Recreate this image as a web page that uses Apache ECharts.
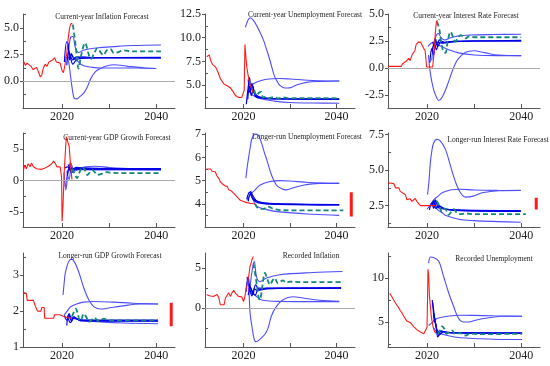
<!DOCTYPE html>
<html><head><meta charset="utf-8">
<script src="https://cdn.jsdelivr.net/npm/echarts@6/dist/echarts.min.js"></script>
<style>html,body{margin:0;padding:0;background:#fff}#c{width:550px;height:366px}</style>
</head><body><div id="c"></div>
<script>
// ---------- Axis tick labels ----------
const xLabels = [2020, 2040];
const xTicks = [2020, 2030, 2040];
const p1Labels = [0, 2.5, 5];
const p2Labels = [5, 7.5, 10, 12.5];
const p3Labels = [-2.5, 0, 2.5, 5];
const p4Labels = [-5, 0, 5];
const p5Labels = [4, 5, 6, 7];
const p6Labels = [2.5, 5, 7.5];
const p7Labels = [1, 2, 3];
const p8Labels = [0, 5];
const p9Labels = [5, 10];

// ---------- Panel 1: Current-year Inflation Forecast ----------
const p1Hist = [[2011.8,1.9],[2012.2,1.5],[2012.6,1.7],[2013.0,1.8],[2013.4,1.4],[2013.8,1.1],[2014.2,1.0],[2014.6,1.3],[2015.0,1.2],[2015.4,0.4],[2015.7,0.6],[2016.0,1.2],[2016.4,1.6],[2016.8,1.4],[2017.2,1.8],[2017.6,1.7],[2018.0,2.0],[2018.4,2.2],[2018.8,1.8],[2019.2,1.9],[2019.6,1.7],[2020.0,1.0],[2020.3,0.8],[2020.6,1.5],[2021.0,2.6],[2021.3,4.0],[2021.6,5.0],[2021.9,5.4],[2022.2,5.4]];
const p1B1 = [[2020.7,2.3],[2021.3,2.0],[2021.8,0.5],[2022.2,-0.8],[2022.6,-1.6],[2023.1,-1.65],[2023.6,-1.5],[2024.6,-1.1],[2025.4,-0.5],[2026.1,0.25],[2027.1,0.9],[2028.2,1.2],[2029.6,1.45],[2031.1,1.55],[2032.5,1.5],[2033.9,1.4],[2035.4,1.35],[2037.5,1.25],[2040.0,1.2]];
const p1B2 = [[2021.0,2.0],[2022.0,2.4],[2023.0,2.0],[2024.0,1.6],[2025.0,1.4],[2026.5,1.3],[2028.2,1.25],[2032,1.25],[2036,1.25],[2040,1.2]];
const p1B3 = [[2021.3,2.5],[2021.8,4.1],[2022.3,4.2],[2022.8,3.2],[2023.5,2.7],[2024.5,2.9],[2026,3.05],[2028,3.15],[2031,3.25],[2035,3.35],[2041,3.4]];
const p1B4 = [[2020.5,1.8],[2021,3.7],[2021.3,3.5],[2021.6,2.0],[2022,2.6],[2022.5,2.1],[2023,2.3],[2024,2.2],[2026,2.2],[2041,2.2]];
const p1B5 = [[2021.0,1.5],[2021.4,2.8],[2021.8,2.2],[2022.3,1.6],[2023,2.0],[2024,2.15],[2026,2.2],[2041,2.25]];
const p1B6 = [[2021.2,3.2],[2021.7,2.5],[2022.3,2.0],[2023,2.2],[2024,2.3],[2026,2.25],[2041,2.2]];
const p1Green = [[2022.3,5.3],[2022.7,4.0],[2023.1,2.5],[2023.5,1.2],[2024.0,2.3],[2024.9,3.6],[2025.6,2.6],[2026.1,2.1],[2026.8,2.6],[2027.5,3.1],[2028.2,2.7],[2028.8,2.45],[2029.5,2.9],[2030.3,3.0],[2031,2.65],[2031.8,2.7],[2033,2.9],[2035,2.8],[2041,2.8]];

// ---------- Panel 2: Current-year Unemployment Forecast ----------
const p2Hist = [[2012.1,8.0],[2012.6,8.2],[2013.0,7.5],[2013.3,7.2],[2014.0,6.9],[2014.4,6.5],[2014.7,6.1],[2015.0,5.7],[2015.4,5.4],[2015.8,5.1],[2016.1,5.0],[2016.5,4.95],[2016.8,4.75],[2017.2,4.7],[2017.5,4.5],[2017.8,4.3],[2018.2,3.95],[2018.6,3.8],[2018.9,3.7],[2019.3,3.65],[2019.6,3.7],[2020.0,3.6],[2020.15,4.5],[2020.3,9.3],[2020.5,8.0],[2020.7,6.9],[2021.0,6.0],[2021.3,5.2],[2021.6,4.8],[2022.1,4.2]];
const p2B1 = [[2020.4,11.1],[2020.9,11.8],[2021.4,12.1],[2022.0,11.9],[2022.8,11.3],[2023.5,10.6],[2024.3,9.75],[2025.0,8.7],[2025.7,7.6],[2026.2,6.7],[2026.7,5.9],[2027.3,5.35],[2027.8,5.0],[2028.9,4.7],[2029.9,4.72],[2031.3,5.0],[2033.5,5.3],[2036.3,5.4],[2040.6,5.45]];
const p2B2 = [[2021.0,4.6],[2021.6,4.9],[2022.3,5.2],[2023.2,5.4],[2024.2,5.55],[2025.0,5.63],[2026.5,5.68],[2027.8,5.7],[2030,5.65],[2033,5.55],[2036,5.47],[2040.6,5.45]];
const p2B3 = [[2021.3,4.4],[2021.8,4.0],[2022.5,3.8],[2023.5,3.6],[2025,3.45],[2027,3.3],[2030,3.18],[2035,3.12],[2040.6,3.1]];
const p2B4 = [[2020.6,3.0],[2021.0,4.8],[2021.3,5.8],[2021.6,4.5],[2022.0,4.9],[2022.4,4.0],[2023,3.8],[2024,3.7],[2026,3.6],[2030,3.55],[2040.6,3.55]];
const p2B5 = [[2021.0,5.6],[2021.4,4.2],[2021.8,5.2],[2022.2,4.3],[2022.7,4.0],[2023.5,3.75],[2025,3.6],[2030,3.55],[2040.6,3.5]];
const p2B6 = [[2020.9,3.5],[2021.3,4.9],[2021.7,3.9],[2022.1,4.6],[2022.6,3.8],[2023.5,3.65],[2026,3.55],[2040.6,3.55]];
const p2Green = [[2022.3,4.5],[2022.8,3.9],[2023.3,4.2],[2023.8,4.3],[2024.2,3.7],[2024.8,3.8],[2025.4,3.65],[2026.5,3.75],[2027.5,3.6],[2028.5,3.72],[2030,3.62],[2032,3.65],[2040.6,3.62]];

// ---------- Panel 3: Current-year Interest Rate Forecast ----------
const p3Hist = [[2011.7,0.15],[2013,0.15],[2014.5,0.15],[2014.8,0.4],[2015.2,0.3],[2015.5,0.6],[2015.8,0.5],[2016.1,0.9],[2016.4,0.7],[2016.8,1.2],[2017.1,1.1],[2017.4,1.6],[2017.7,2.2],[2018.1,2.4],[2018.6,2.4],[2019.0,2.3],[2019.3,1.8],[2019.6,1.6],[2019.9,0.1],[2020.5,0.1],[2021.2,0.1],[2021.5,1.5],[2021.8,3.5],[2022.0,4.3],[2022.2,4.4]];
const p3B1 = [[2020.3,1.2],[2020.7,-0.5],[2021.4,-2.0],[2022.1,-2.8],[2022.5,-3.0],[2023.2,-2.7],[2024.3,-1.6],[2025.3,-0.35],[2026.0,0.4],[2026.7,0.9],[2028.2,1.45],[2029.9,1.6],[2032.4,1.4],[2035.2,1.2],[2040,1.15]];
const p3B2 = [[2020.2,2.0],[2021.4,2.4],[2022.5,2.1],[2024.6,1.7],[2026.7,1.4],[2030,1.2],[2035,1.15],[2040,1.15]];
const p3B3 = [[2021.0,0.7],[2021.6,2.6],[2022.4,3.2],[2023.0,2.8],[2023.8,2.6],[2025,2.8],[2026.5,2.95],[2029,3.05],[2034,3.1],[2040,3.12]];
const p3B4 = [[2020.6,0.5],[2021.0,1.8],[2021.4,1.2],[2021.8,2.7],[2022.3,2.0],[2023,2.5],[2024,2.35],[2026,2.45],[2030,2.5],[2040,2.5]];
const p3B5 = [[2021.0,1.5],[2021.5,2.2],[2022.0,1.7],[2022.6,2.6],[2023.4,2.3],[2025,2.45],[2030,2.5],[2040,2.55]];
const p3B6 = [[2021.2,2.4],[2021.7,1.9],[2022.2,2.4],[2023,2.3],[2024.5,2.45],[2030,2.5],[2040,2.5]];
const p3Green = [[2022.1,4.3],[2022.6,3.6],[2023.0,2.4],[2023.5,1.5],[2023.9,1.4],[2024.4,2.5],[2025.0,3.35],[2025.5,2.9],[2026.0,2.45],[2026.6,2.8],[2027.1,3.05],[2027.7,2.9],[2028.2,2.75],[2029,2.95],[2030,2.85],[2032,2.85],[2040,2.85]];

// ---------- Panel 4: Current-year GDP Growth Forecast ----------
const p4Hist = [[2011.8,1.7],[2012.1,2.5],[2012.4,1.9],[2012.8,2.7],[2013.2,2.2],[2013.5,2.8],[2013.9,2.2],[2014.6,1.9],[2015.0,2.2],[2015.7,1.8],[2016.4,2.0],[2017.1,2.3],[2017.8,2.7],[2018.2,3.1],[2018.6,2.7],[2018.9,2.2],[2019.6,2.2],[2019.9,0.5],[2020.0,-6.5],[2020.2,-4],[2020.5,2.0],[2020.9,7.0],[2021.2,6.8],[2021.5,5.5],[2021.8,2.5],[2022.1,0.2]];
const p4B1 = [[2020.4,1.3],[2020.8,-1.5],[2021.3,1.5],[2021.8,2.9],[2022.3,2.0],[2023,1.8],[2025,2.2],[2027,2.3],[2030,2.1],[2035,1.9],[2041,1.85]];
const p4B2 = [[2020.7,-1.0],[2021.2,1.2],[2021.7,2.5],[2022.2,1.6],[2023,1.9],[2025,1.85],[2030,1.8],[2041,1.8]];
const p4B3 = [[2021.0,1.5],[2021.5,0.2],[2022.0,2.2],[2022.6,1.5],[2023.5,1.75],[2026,1.7],[2030,1.7],[2041,1.65]];
const p4B4 = [[2020.6,2.0],[2021.2,2.2],[2022.0,1.3],[2023,1.9],[2025,2.0],[2030,1.9],[2041,1.9]];
const p4B5 = [[2021.3,2.6],[2022.0,1.7],[2023,2.1],[2025,1.95],[2041,1.85]];
const p4B6 = [[2021.1,0.8],[2021.6,2.0],[2022.4,1.9],[2024,1.8],[2041,1.8]];
const p4Green = [[2022.1,1.9],[2022.6,1.2],[2023.2,0.4],[2023.7,1.3],[2024.3,2.2],[2024.9,1.6],[2025.4,0.9],[2025.9,1.3],[2026.4,1.7],[2027.0,1.3],[2027.5,0.9],[2028.5,1.1],[2029.5,1.35],[2030.4,1.25],[2033,1.2],[2041,1.2]];

// ---------- Panel 5: Longer-run Unemployment Forecast ----------
const p5Hist = [[2012.0,5.5],[2012.9,5.5],[2013.2,5.4],[2013.9,5.38],[2014.3,5.2],[2014.8,5.05],[2015.0,4.95],[2015.5,4.85],[2016.0,4.78],[2016.5,4.75],[2016.8,4.6],[2017.4,4.55],[2017.9,4.45],[2018.3,4.4],[2018.6,4.3],[2019.0,4.22],[2019.3,4.15],[2020.0,4.1],[2020.7,4.05],[2021.4,4.02],[2022.1,4.0],[2022.4,4.0]];
const p5B1 = [[2020.5,5.1],[2020.8,5.6],[2021.1,6.0],[2021.5,6.5],[2021.8,6.8],[2022.5,7.0],[2023.2,6.95],[2023.9,6.6],[2024.5,6.2],[2025.0,5.9],[2026.0,5.25],[2027.1,4.8],[2028.2,4.65],[2029.2,4.6],[2030.6,4.68],[2032.8,4.8],[2036.3,4.88],[2040.6,4.88]];
const p5B2 = [[2020.7,4.15],[2021.5,4.4],[2022.5,4.6],[2023.5,4.8],[2025.5,4.95],[2027.8,5.0],[2030,4.98],[2034,4.92],[2040.6,4.88]];
const p5B3 = [[2021.5,4.5],[2022.0,4.2],[2022.8,3.9],[2025,3.75],[2027.8,3.65],[2034.9,3.55],[2040.6,3.5]];
const p5B4 = [[2020.7,4.2],[2021.3,4.5],[2021.8,4.3],[2022.5,4.15],[2024,4.05],[2027,4.0],[2040.6,3.95]];
const p5B5 = [[2021.0,4.1],[2021.5,4.45],[2022.0,4.2],[2023,4.05],[2026,3.98],[2040.6,3.95]];
const p5B6 = [[2021.5,4.55],[2022.0,4.35],[2023,4.1],[2025,4.02],[2040.6,3.97]];
const p5Green = [[2022.5,4.0],[2022.9,3.85],[2023.3,3.8],[2024.3,3.78],[2025.3,3.88],[2026.4,3.78],[2027.8,3.73],[2030,3.72],[2041.5,3.72]];
const p5Range = [3.45, 4.5];

// ---------- Panel 6: Longer-run Interest Rate Forecast ----------
const p6Hist = [[2011.7,4.1],[2012.9,4.05],[2013.3,3.75],[2014.0,3.75],[2014.3,3.5],[2014.7,3.6],[2015.4,3.27],[2015.7,2.92],[2016.4,2.98],[2016.8,2.8],[2017.5,3.0],[2017.8,2.8],[2018.2,2.73],[2018.6,2.5],[2020.5,2.5],[2021.1,2.5],[2021.4,2.55],[2021.8,2.5]];
const p6B1 = [[2020.1,3.27],[2020.4,4.2],[2020.7,5.5],[2021.0,6.3],[2021.4,6.9],[2022.1,7.15],[2022.8,7.05],[2023.9,6.45],[2025.0,5.27],[2026.0,4.2],[2027.1,3.4],[2028.2,3.1],[2029.6,3.15],[2031.7,3.4],[2035.2,3.55],[2039.9,3.57]];
const p6B2 = [[2020.0,2.25],[2020.8,2.6],[2021.4,2.9],[2022.3,3.15],[2023.2,3.4],[2024.4,3.55],[2025.3,3.62],[2027.0,3.65],[2030,3.6],[2035,3.57],[2039.9,3.56]];
const p6B3 = [[2021.5,2.5],[2022.3,2.2],[2023.2,2.0],[2024.0,1.8],[2026.7,1.55],[2030,1.45],[2035,1.38],[2039.9,1.33]];
const p6B4 = [[2020.5,2.2],[2021.0,2.7],[2021.4,2.3],[2021.8,2.9],[2022.3,2.4],[2023,2.3],[2025,2.2],[2030,2.15],[2039.9,2.1]];
const p6B5 = [[2021.0,2.5],[2021.5,2.85],[2022.0,2.4],[2022.6,2.45],[2024,2.25],[2027,2.15],[2039.9,2.1]];
const p6B6 = [[2021.3,2.8],[2021.9,2.3],[2022.5,2.5],[2023.5,2.3],[2026,2.2],[2039.9,2.15]];
const p6Green = [[2022.0,2.85],[2022.6,2.5],[2023.2,2.05],[2023.8,2.3],[2024.6,1.85],[2025.1,2.05],[2025.7,2.25],[2026.3,2.0],[2027,1.9],[2028.2,1.95],[2030,1.9],[2041,1.9]];
const p6Range = [2.22, 3.05];

// ---------- Panel 7: Longer-run GDP Growth Forecast ----------
const p7Hist = [[2011.8,2.52],[2012.4,2.5],[2012.6,2.3],[2013.9,2.3],[2014.3,2.15],[2014.8,2.0],[2015.5,2.0],[2015.7,2.1],[2016.2,2.1],[2016.3,1.8],[2018.2,1.8],[2018.4,1.9],[2019.5,1.9],[2019.8,1.86],[2020.3,1.85],[2021.1,1.82],[2022.1,1.8]];
const p7B1 = [[2020.2,2.45],[2020.5,2.85],[2020.7,3.07],[2021.4,3.38],[2022.0,3.45],[2022.6,3.38],[2023.6,3.07],[2024.6,2.65],[2025.7,2.31],[2026.8,2.12],[2028.2,2.06],[2029.6,2.08],[2032.5,2.14],[2036.8,2.2],[2040.4,2.2]];
const p7B2 = [[2020.4,1.88],[2021.2,2.02],[2021.8,2.12],[2023.1,2.2],[2024.6,2.25],[2026.8,2.27],[2031,2.25],[2035,2.22],[2040.4,2.2]];
const p7B3 = [[2021.5,1.9],[2022.1,1.82],[2024.6,1.74],[2028.2,1.7],[2033,1.67],[2040.4,1.65]];
const p7B4 = [[2020.5,1.88],[2021.0,1.75],[2021.5,1.93],[2022.0,1.72],[2022.5,1.85],[2023.5,1.76],[2026,1.74],[2040.4,1.73]];
const p7B5 = [[2021.0,1.6],[2021.4,1.9],[2021.9,1.78],[2022.5,1.8],[2024,1.75],[2040.4,1.75]];
const p7B6 = [[2021.2,1.85],[2021.8,1.68],[2022.6,1.82],[2024,1.73],[2030,1.72],[2040.4,1.72]];
const p7Green = [[2022.1,1.85],[2022.6,2.0],[2022.9,2.07],[2023.3,1.95],[2023.8,1.73],[2024.2,1.8],[2024.6,1.93],[2025.2,1.82],[2025.7,1.7],[2026.3,1.76],[2026.8,1.82],[2027.4,1.76],[2027.9,1.72],[2028.4,1.76],[2028.9,1.79],[2029.6,1.75],[2031,1.74],[2040.4,1.74]];
const p7Range = [1.58, 2.23];

// ---------- Panel 8: Recorded Inflation ----------
const p8Hist = [[2012.05,1.67],[2012.4,1.9],[2012.9,1.5],[2013.2,1.55],[2013.6,1.46],[2014.0,1.4],[2014.3,1.7],[2014.7,1.25],[2015.0,0.4],[2015.4,0.2],[2015.8,0.4],[2016.1,1.25],[2016.5,1.5],[2016.8,1.9],[2017.2,1.45],[2017.5,1.9],[2017.9,2.2],[2018.2,1.9],[2018.6,1.67],[2018.9,1.45],[2019.3,1.25],[2019.6,1.4],[2020.0,0.8],[2020.3,1.5],[2020.7,2.7],[2021.1,3.95],[2021.4,5.2],[2021.8,6.05],[2022.1,6.45]];
const p8B1 = [[2020.7,3.9],[2021.1,2.7],[2021.4,-0.6],[2021.8,-2.3],[2022.3,-3.95],[2022.7,-4.25],[2023.5,-3.95],[2024.6,-3.3],[2025.3,-2.5],[2026.0,-1.0],[2027.1,0.2],[2028.5,1.04],[2030.6,1.4],[2032.8,1.25],[2036.3,0.96],[2040.6,0.83]];
const p8B2 = [[2021.0,2.5],[2021.6,1.9],[2022.5,1.6],[2023.5,1.1],[2025,0.9],[2028,0.82],[2033,0.8],[2040.6,0.8]];
const p8B3 = [[2021.4,2.5],[2021.8,4.5],[2022.3,5.85],[2022.8,3.9],[2023.5,3.3],[2024.9,3.75],[2027.8,4.17],[2034.9,4.45],[2041.3,4.58]];
const p8B4 = [[2020.5,2.0],[2021.0,3.9],[2021.3,2.6],[2021.8,1.5],[2022.3,2.4],[2023,2.2],[2025,2.4],[2030,2.5],[2041,2.5]];
const p8B5 = [[2021.0,1.6],[2021.5,2.6],[2022.0,1.7],[2022.6,2.9],[2023.5,2.3],[2025,2.5],[2041,2.5]];
const p8B6 = [[2021.2,3.0],[2021.8,2.2],[2022.5,1.6],[2023.3,2.5],[2025,2.45],[2041,2.52]];
const p8Green = [[2022.1,5.6],[2022.7,3.55],[2023.2,1.46],[2023.5,1.0],[2024.0,2.5],[2024.6,4.4],[2025.2,3.5],[2025.7,2.9],[2026.2,3.4],[2026.7,3.75],[2027.4,3.1],[2028.5,3.46],[2029.2,3.15],[2029.9,3.3],[2032,3.25],[2041,3.25]];

// ---------- Panel 9: Recorded Unemployment ----------
const p9Hist = [[2012.06,8.27],[2012.5,7.9],[2012.9,7.5],[2013.3,7.3],[2013.6,6.9],[2014.0,6.6],[2014.3,6.3],[2014.7,6.0],[2015.0,5.7],[2015.3,5.5],[2015.7,5.1],[2016.1,5.0],[2016.5,4.9],[2016.8,4.7],[2017.2,4.45],[2017.5,4.3],[2017.9,4.1],[2018.3,3.95],[2018.6,3.85],[2019.0,3.75],[2019.3,3.65],[2019.7,3.5],[2020.0,4.4],[2020.2,11.0],[2020.35,10.2],[2020.5,8.0],[2020.7,6.8],[2020.9,5.6],[2021.3,4.4],[2021.6,3.9],[2021.9,3.7]];
const p9B1 = [[2020.35,11.7],[2020.7,12.4],[2021.4,12.35],[2022.5,11.9],[2023.5,10.2],[2024.6,8.3],[2025.7,6.7],[2026.7,5.4],[2027.8,5.0],[2028.9,5.0],[2030.3,5.2],[2032.8,5.45],[2036.3,5.65],[2040.2,5.65]];
const p9B2 = [[2020.35,4.6],[2021.0,4.9],[2022.1,5.4],[2024.3,5.65],[2027.1,5.77],[2030,5.75],[2034,5.7],[2040.2,5.65]];
const p9B3 = [[2021.5,4.3],[2022.1,3.85],[2024.3,3.46],[2027.1,3.2],[2034.2,3.04],[2040.2,3.0]];
const p9B4 = [[2021.1,7.5],[2021.3,6.5],[2021.5,5.2],[2021.8,4.8],[2022.2,4.0],[2023,3.9],[2025,3.8],[2030,3.75],[2040.2,3.7]];
const p9B5 = [[2021.2,7.2],[2021.6,5.5],[2022.0,4.3],[2022.5,3.5],[2023.5,3.9],[2025,3.75],[2040.2,3.75]];
const p9B6 = [[2021.4,6.0],[2021.9,4.6],[2022.3,3.3],[2023,4.0],[2024,3.8],[2030,3.72],[2040.2,3.7]];
const p9Green = [[2022.3,3.6],[2022.8,4.1],[2023.2,4.5],[2023.7,4.2],[2024.1,3.65],[2024.7,3.85],[2025.3,4.04],[2026.0,3.58],[2026.5,3.7],[2027.1,3.73],[2027.7,3.5],[2028.2,3.46],[2029,3.65],[2031,3.62],[2040.2,3.65]];

const rangeYear = 2043.2;

// ---------- Panel definitions ----------
const panels = [
  {title:'Current-year Inflation Forecast', hist:p1Hist, light:[p1B1,p1B2,p1B3], dark:[p1B4,p1B5,p1B6], green:p1Green, labels:p1Labels, dec:1, zero:true, range:null},
  {title:'Current-year Unemployment Forecast', hist:p2Hist, light:[p2B1,p2B2,p2B3], dark:[p2B4,p2B5,p2B6], green:p2Green, labels:p2Labels, dec:1, zero:false, range:null},
  {title:'Current-year Interest Rate Forecast', hist:p3Hist, light:[p3B1,p3B2,p3B3], dark:[p3B4,p3B5,p3B6], green:p3Green, labels:p3Labels, dec:1, zero:true, range:null},
  {title:'Current-year GDP Growth Forecast', hist:p4Hist, light:[p4B1,p4B2,p4B3], dark:[p4B4,p4B5,p4B6], green:p4Green, labels:p4Labels, dec:0, zero:true, range:null},
  {title:'Longer-run Unemployment Forecast', hist:p5Hist, light:[p5B1,p5B2,p5B3], dark:[p5B4,p5B5,p5B6], green:p5Green, labels:p5Labels, dec:0, zero:false, range:p5Range},
  {title:'Longer-run Interest Rate Forecast', hist:p6Hist, light:[p6B1,p6B2,p6B3], dark:[p6B4,p6B5,p6B6], green:p6Green, labels:p6Labels, dec:1, zero:false, range:p6Range},
  {title:'Longer-run GDP Growth Forecast', hist:p7Hist, light:[p7B1,p7B2,p7B3], dark:[p7B4,p7B5,p7B6], green:p7Green, labels:p7Labels, dec:0, zero:false, range:p7Range},
  {title:'Recorded Inflation', hist:p8Hist, light:[p8B1,p8B2,p8B3], dark:[p8B4,p8B5,p8B6], green:p8Green, labels:p8Labels, dec:0, zero:true, range:null},
  {title:'Recorded Unemployment', hist:p9Hist, light:[p9B1,p9B2,p9B3], dark:[p9B4,p9B5,p9B6], green:p9Green, labels:p9Labels, dec:0, zero:false, range:null}
];

// ---------- Layout (pixels) ----------
const colLeft = [23, 205, 388];
const colWidth = [152, 150, 152];
const rowTop = [14, 133, 253];
const rowHeight = 94;
const yRanges = [[-2.5,6.3],[2.6,12.5],[-3.7,5.0],[-7.4,7.6],[3.0,7.05],[1.0,7.6],[1.0,3.62],[-4.9,6.9],[2.15,12.85]];
const titlePos = [[97,13],[300,11],[461,12],[112,134],[302,133],[493,136],[105,252],[306,252],[489,255]];
const minorStep = [1.25,1.25,1.25,2.5,0.5,1.25,0.5,2.5,2.5];

const FONT = 'Liberation Serif';
const AX = '#555';
const RED = '#ff1a1a', LIGHT = '#4d4dff', DARK = '#0000e8', GREEN = '#12877a';

const option = {animation:false, backgroundColor:'#fff', title:[], grid:[], xAxis:[], yAxis:[], series:[]};

panels.forEach((p, i) => {
  const c = i % 3, r = Math.floor(i / 3);
  const [ymin, ymax] = yRanges[i];
  option.grid.push({left:colLeft[c], top:rowTop[r], width:colWidth[c], height:rowHeight});
  option.title.push({text:p.title, left:titlePos[i][0], top:titlePos[i][1]-5, textAlign:'center',
    textStyle:{fontFamily:FONT, fontSize:7.5, fontWeight:'normal', color:'#222'}});
  option.xAxis.push({gridIndex:i, type:'value', min:2011.7, max:2044,
    axisLine:{show:true, onZero:false, lineStyle:{color:AX, width:1}},
    axisTick:{show:true, inside:true, length:4, customValues:xTicks, lineStyle:{color:AX}},
    axisLabel:{customValues:xLabels, formatter:v => String(Math.round(v)), fontFamily:FONT, fontSize:12, color:'#222', margin:3},
    splitLine:{show:false}});
  const minor = [];
  for (let v = Math.ceil(ymin / minorStep[i]) * minorStep[i]; v <= ymax + 1e-9; v += minorStep[i]) {
    if (!p.labels.some(l => Math.abs(l - v) < 1e-6)) minor.push(+v.toFixed(3));
  }
  option.yAxis.push({gridIndex:i, type:'value', min:ymin, max:ymax, position:'left',
    axisLine:{show:true, onZero:false, lineStyle:{color:AX, width:1}},
    axisTick:{show:true, inside:false, length:3, customValues:p.labels, lineStyle:{color:AX}},
    axisLabel:{customValues:p.labels, formatter:v => (+v).toFixed(p.dec), fontFamily:FONT, fontSize:12, color:'#222', margin:4},
    splitLine:{show:false}});
  option.yAxis.push({gridIndex:i, type:'value', min:ymin, max:ymax, position:'left',
    axisLine:{show:false}, axisLabel:{show:false},
    axisTick:{show:true, inside:true, length:3, customValues:minor, lineStyle:{color:AX}},
    splitLine:{show:false}});
  const yi = 2 * i;
  const base = {type:'line', xAxisIndex:i, yAxisIndex:yi, symbol:'none', silent:true};
  p.light.forEach(d => option.series.push(Object.assign({}, base, {data:d, smooth:0.35, lineStyle:{color:LIGHT, width:1.1}})));
  p.dark.forEach(d => option.series.push(Object.assign({}, base, {data:d, smooth:0.35, lineStyle:{color:DARK, width:1.2}})));
  option.series.push(Object.assign({}, base, {data:p.green, smooth:0.35, lineStyle:{color:GREEN, width:1.8, type:[5,3]}}));
  const hist = Object.assign({}, base, {data:p.hist, lineStyle:{color:RED, width:1.1}, z:3});
  if (p.zero) hist.markLine = {silent:true, symbol:'none', label:{show:false}, data:[{yAxis:0}], lineStyle:{color:'#aaa', type:'solid', width:1}};
  option.series.push(hist);
  if (p.range) option.series.push(Object.assign({}, base, {data:[[rangeYear, p.range[0]], [rangeYear, p.range[1]]], lineStyle:{color:RED, width:3}}));
});

const chart = echarts.init(document.getElementById('c'), null, {renderer:'canvas'});
chart.setOption(option);
</script></body></html>
